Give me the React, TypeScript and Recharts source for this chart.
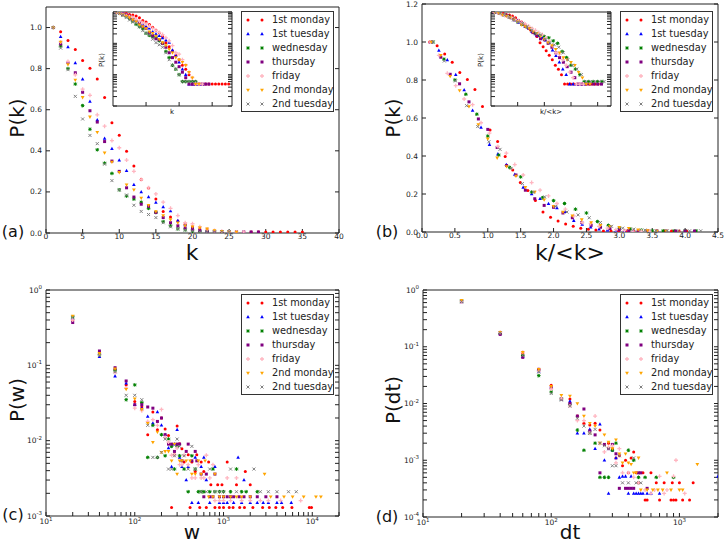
import React from 'react';
import { ScatterChart, Scatter, XAxis, YAxis } from 'recharts';

// legend entries, shared by all four panels
const seriesNames = ['1st monday', '1st tuesday', 'wednesday', 'thursday', 'friday', '2nd monday', '2nd tuesday'];
const seriesColors = ['#ff0000', '#0000ff', '#008000', '#800080', '#ffb6c1', '#ffa500', '#808080'];
const seriesShapes = ['dot', 'tri', 'star', 'square', 'plus', 'vtri', 'x'];

// (a) cumulative degree distribution P(k), k = 1, 2, 3, ...
const pk1stMonday = [1.0, 0.98, 0.937, 0.893, 0.839, 0.802, 0.75, 0.66, 0.537, 0.476, 0.398, 0.326, 0.261, 0.219, 0.166, 0.105, 0.078, 0.058, 0.042, 0.03, 0.02, 0.015, 0.01, 0.005, 0.005, 0.005, 0.005, 0.005, 0.005, 0.005, 0.005, 0.005, 0.005, 0.005, 0.005];
const pk1stTuesday = [1.0, 0.955, 0.905, 0.828, 0.748, 0.64, 0.55, 0.46, 0.41, 0.354, 0.303, 0.235, 0.2, 0.175, 0.149, 0.127, 0.107, 0.06, 0.04, 0.025, 0.015, 0.01, 0.005, 0.005, 0.005, 0.005, 0.005];
const pkWednesday = [1.0, 0.91, 0.8, 0.725, 0.62, 0.505, 0.405, 0.34, 0.29, 0.21, 0.18, 0.165, 0.15, 0.12, 0.1, 0.055, 0.035, 0.02, 0.015, 0.01, 0.006, 0.006, 0.006, 0.006, 0.006];
const pkThursday = [1.0, 0.92, 0.83, 0.78, 0.685, 0.595, 0.54, 0.445, 0.35, 0.3, 0.22, 0.175, 0.14, 0.13, 0.1, 0.075, 0.05, 0.035, 0.025, 0.018, 0.012, 0.008, 0.005, 0.005, 0.005, 0.005, 0.005, 0.005, 0.005];
const pkFriday = [1.0, 0.93, 0.835, 0.77, 0.7, 0.67, 0.575, 0.52, 0.45, 0.415, 0.355, 0.3, 0.26, 0.22, 0.19, 0.15, 0.12, 0.085, 0.05, 0.045, 0.03, 0.02, 0.012, 0.008, 0.005, 0.005, 0.005];
const pk2ndMonday = [1.0, 0.93, 0.82, 0.745, 0.66, 0.565, 0.49, 0.39, 0.345, 0.295, 0.235, 0.21, 0.17, 0.135, 0.105, 0.085, 0.065, 0.05, 0.035, 0.03, 0.025, 0.02, 0.012, 0.008, 0.005, 0.005];
const pk2ndTuesday = [1.0, 0.9, 0.795, 0.665, 0.555, 0.475, 0.435, 0.335, 0.255, 0.21, 0.185, 0.135, 0.105, 0.09, 0.075, 0.05, 0.03, 0.02, 0.015, 0.01, 0.006, 0.006, 0.006, 0.006, 0.006];
const pkSeries = [pk1stMonday, pk1stTuesday, pkWednesday, pkThursday, pkFriday, pk2ndMonday, pk2ndTuesday];

// (b) same curves against k/<k>; mean degree of each day
const meanDegree = [8.7, 7.8, 6.0, 7.0, 7.8, 7.0, 5.9];

// (c) weight distribution P(w), [w, P]
const pw1stMonday = [[20, 0.4], [40, 0.15], [60, 0.088], [80, 0.055], [100, 0.033], [120, 0.028], [140, 0.012], [160, 0.024], [180, 0.014], [200, 0.02], [220, 0.0143], [240, 0.0117], [260, 0.0013], [280, 0.0065], [300, 0.0156], [320, 0.0091], [340, 0.0078], [360, 0.0052], [400, 0.0065], [420, 0.0013], [440, 0.0052], [480, 0.0039], [500, 0.0065], [540, 0.0013], [560, 0.0052], [600, 0.0039], [640, 0.0013], [680, 0.0052], [720, 0.0026], [800, 0.0013], [860, 0.0026], [900, 0.0013], [960, 0.0026], [1000, 0.0013], [1100, 0.0052], [1160, 0.0013], [1280, 0.0013], [1400, 0.0026], [1520, 0.0013], [1720, 0.0013], [1760, 0.0039], [2000, 0.0026], [2140, 0.0013], [2760, 0.0013], [3280, 0.0013], [3880, 0.0013], [4640, 0.0013], [5900, 0.0013], [9260, 0.0013], [9800, 0.0013]];
const pw1stTuesday = [[20, 0.42], [40, 0.13], [60, 0.072], [80, 0.058], [100, 0.03], [120, 0.027], [140, 0.021], [160, 0.017], [180, 0.024], [200, 0.016], [220, 0.012], [240, 0.008], [260, 0.0045], [280, 0.009], [300, 0.014], [320, 0.006], [340, 0.0045], [380, 0.003], [400, 0.0045], [440, 0.0015], [480, 0.006], [520, 0.0015], [560, 0.0045], [600, 0.006], [640, 0.003], [700, 0.0015], [800, 0.0045], [900, 0.0015], [1000, 0.0015], [1100, 0.0015], [1300, 0.0015], [1460, 0.006], [1600, 0.0015], [1700, 0.003], [2000, 0.0015], [2400, 0.0015], [2800, 0.0015], [3200, 0.0015], [4000, 0.0015], [4500, 0.0015], [5800, 0.0015]];
const pwWednesday = [[20, 0.44], [40, 0.14], [60, 0.085], [80, 0.035], [100, 0.055], [120, 0.032], [140, 0.006], [160, 0.016], [180, 0.006], [200, 0.012], [220, 0.0063], [240, 0.0105], [260, 0.0084], [280, 0.0042], [300, 0.0084], [320, 0.0063], [360, 0.0042], [400, 0.0021], [440, 0.0063], [480, 0.0042], [520, 0.0021], [560, 0.0021], [600, 0.0021], [700, 0.0021], [760, 0.0042], [800, 0.0021], [900, 0.0021], [1000, 0.0021], [1200, 0.0021], [1400, 0.0042], [1600, 0.0021], [1800, 0.0021], [2400, 0.0021]];
const pwThursday = [[20, 0.37], [40, 0.155], [60, 0.093], [80, 0.062], [100, 0.03], [120, 0.03], [140, 0.028], [160, 0.027], [180, 0.018], [200, 0.02], [220, 0.012], [240, 0.009], [260, 0.009], [280, 0.0072], [300, 0.009], [320, 0.009], [340, 0.0054], [380, 0.0072], [400, 0.009], [440, 0.0054], [480, 0.0072], [500, 0.0054], [560, 0.0036], [600, 0.0018], [640, 0.0036], [700, 0.0018], [760, 0.0018], [800, 0.0036], [900, 0.0018], [1000, 0.0018], [1100, 0.0018], [1200, 0.0018], [1300, 0.0018], [1500, 0.0018], [1700, 0.0018], [2000, 0.0018], [2400, 0.0018], [3000, 0.0018], [4000, 0.0018]];
const pwFriday = [[20, 0.4], [40, 0.14], [60, 0.08], [80, 0.05], [100, 0.027], [120, 0.025], [140, 0.018], [160, 0.019], [180, 0.016], [200, 0.026], [220, 0.011], [240, 0.0096], [260, 0.0064], [280, 0.0064], [300, 0.008], [320, 0.0048], [340, 0.0048], [360, 0.0064], [400, 0.0048], [440, 0.0032], [480, 0.0032], [520, 0.0048], [560, 0.0032], [600, 0.0032], [640, 0.0064], [700, 0.0032], [760, 0.0048], [800, 0.0016], [900, 0.0016], [1000, 0.0016], [1100, 0.0032], [1200, 0.0016], [1400, 0.0032], [1600, 0.0016], [2000, 0.0016], [2600, 0.0016], [3200, 0.0016], [4400, 0.0016], [7400, 0.0016]];
const pw2ndMonday = [[20, 0.45], [40, 0.145], [60, 0.09], [80, 0.048], [100, 0.036], [120, 0.026], [140, 0.017], [160, 0.0095], [180, 0.013], [200, 0.007], [220, 0.0072], [240, 0.0072], [260, 0.0054], [280, 0.009], [300, 0.0036], [320, 0.0054], [340, 0.0054], [380, 0.0054], [420, 0.0054], [440, 0.0036], [480, 0.0036], [520, 0.0054], [560, 0.0036], [620, 0.0054], [680, 0.0018], [760, 0.0018], [800, 0.0036], [900, 0.0018], [1000, 0.0018], [1200, 0.0018], [1400, 0.0018], [1600, 0.0018], [2000, 0.0018], [2900, 0.0036], [3400, 0.0018], [4800, 0.0018], [6000, 0.0018], [8000, 0.0018], [11000, 0.0018], [12500, 0.0018]];
const pw2ndTuesday = [[20, 0.43], [40, 0.135], [60, 0.082], [80, 0.04], [100, 0.04], [120, 0.035], [140, 0.016], [160, 0.006], [180, 0.006], [200, 0.007], [220, 0.0105], [240, 0.0042], [260, 0.0042], [280, 0.0063], [300, 0.0105], [320, 0.0084], [360, 0.0063], [400, 0.0042], [440, 0.0084], [480, 0.0042], [560, 0.0021], [640, 0.0021], [700, 0.0042], [800, 0.0021], [900, 0.0021], [1000, 0.0021], [1200, 0.0042], [1400, 0.0021], [2200, 0.0042], [2600, 0.0021], [3200, 0.0021], [4000, 0.0021], [5400, 0.0021], [6600, 0.0021]];
const pwSeries = [pw1stMonday, pw1stTuesday, pwWednesday, pwThursday, pwFriday, pw2ndMonday, pw2ndTuesday];

// (d) inter-contact time distribution P(dt), [dt, P]
const pdt1stMonday = [[20, 0.63], [40, 0.175], [60, 0.075], [80, 0.04], [100, 0.021], [120, 0.012], [140, 0.012], [160, 0.006], [180, 0.0045], [200, 0.0042], [220, 0.0045], [240, 0.0034], [260, 0.0019], [280, 0.002], [300, 0.0016], [320, 0.0011], [340, 0.0012], [360, 0.0008], [380, 0.001], [400, 0.0006], [420, 0.0011], [440, 0.0014], [460, 0.0006], [480, 0.0004], [520, 0.0006], [540, 0.0002], [560, 0.0002], [600, 0.0006], [660, 0.0004], [700, 0.0002], [760, 0.0004], [860, 0.0002], [880, 0.0004], [900, 0.0002], [940, 0.0002], [1000, 0.0004], [1060, 0.0002], [1200, 0.0002], [1280, 0.0004]];
const pdt1stTuesday = [[20, 0.62], [40, 0.17], [60, 0.067], [80, 0.037], [100, 0.019], [120, 0.012], [140, 0.011], [160, 0.003], [180, 0.003], [200, 0.0035], [220, 0.0016], [240, 0.0043], [260, 0.001], [280, 0.00026], [300, 0.0015], [320, 0.0011], [340, 0.0005], [360, 0.00052], [380, 0.00052], [400, 0.00026], [420, 0.00052], [440, 0.00026], [460, 0.00026], [480, 0.00026], [500, 0.00026], [520, 0.00026], [560, 0.00026], [600, 0.00026], [700, 0.00026], [2000, 0.00052]];
const pdtWednesday = [[20, 0.64], [40, 0.17], [60, 0.07], [80, 0.031], [100, 0.016], [120, 0.012], [140, 0.0095], [160, 0.0034], [180, 0.0015], [200, 0.003], [220, 0.002], [240, 0.0005], [260, 0.0005], [280, 0.0005], [300, 0.0015], [320, 0.002], [400, 0.0015], [440, 0.001], [480, 0.0005], [540, 0.0005], [660, 0.0005], [900, 0.0005]];
const pdtThursday = [[20, 0.62], [40, 0.165], [60, 0.065], [80, 0.04], [100, 0.019], [120, 0.012], [140, 0.01], [160, 0.006], [180, 0.008], [200, 0.0033], [220, 0.0028], [240, 0.0006], [260, 0.0019], [280, 0.0016], [300, 0.0019], [320, 0.0013], [340, 0.00032], [380, 0.00032], [400, 0.00032], [420, 0.00032], [440, 0.00032], [480, 0.0006], [500, 0.0006], [560, 0.00032]];
const pdtFriday = [[20, 0.63], [40, 0.18], [60, 0.08], [80, 0.037], [100, 0.018], [120, 0.012], [140, 0.009], [160, 0.005], [180, 0.005], [200, 0.003], [220, 0.006], [240, 0.002], [260, 0.0014], [280, 0.0017], [300, 0.0018], [320, 0.0009], [340, 0.0016], [360, 0.0006], [400, 0.0006], [440, 0.0005], [480, 0.0004], [540, 0.0003], [600, 0.00026], [640, 0.0003], [700, 0.00052], [760, 0.00026], [800, 0.0003], [900, 0.00052], [940, 0.001], [1100, 0.00026]];
const pdt2ndMonday = [[20, 0.66], [40, 0.18], [60, 0.08], [80, 0.04], [100, 0.02], [120, 0.014], [140, 0.0135], [160, 0.01], [180, 0.006], [200, 0.0045], [220, 0.004], [240, 0.002], [260, 0.0028], [280, 0.0021], [300, 0.0016], [320, 0.0023], [340, 0.0013], [360, 0.0009], [380, 0.0013], [400, 0.0009], [420, 0.00085], [440, 0.0006], [460, 0.0006], [480, 0.0011], [500, 0.0003], [560, 0.0003], [620, 0.0003], [680, 0.0003], [740, 0.0003], [800, 0.0006], [860, 0.0003], [1000, 0.0003], [1060, 0.0003], [1380, 0.00085]];
const pdt2ndTuesday = [[20, 0.62], [40, 0.175], [60, 0.07], [80, 0.036], [100, 0.015], [120, 0.0115], [140, 0.009], [160, 0.0055], [180, 0.004], [200, 0.003], [220, 0.0035], [240, 0.002], [260, 0.0018], [280, 0.0016], [300, 0.0008], [320, 0.0008], [340, 0.0012], [360, 0.0004], [400, 0.0004], [440, 0.0011], [460, 0.0004], [500, 0.0004], [2000, 0.0004]];
const pdtSeries = [pdt1stMonday, pdt1stTuesday, pdtWednesday, pdtThursday, pdtFriday, pdt2ndMonday, pdt2ndTuesday];

// tick values
const kTicks = [0, 5, 10, 15, 20, 25, 30, 35, 40];
const pkTicksA = [0, 0.2, 0.4, 0.6, 0.8, 1.0];
const kNormTicks = [0, 0.5, 1, 1.5, 2, 2.5, 3, 3.5, 4, 4.5];
const pkTicksB = [0, 0.2, 0.4, 0.6, 0.8, 1.0, 1.2];

const FONT = '"DejaVu Sans", sans-serif';
const INK = '#222';

// decades plus the 2..9 minor positions between them
const logTicks = (lo: number, hi: number, top?: number) => {
  const out: number[] = [];
  for (let e = lo; e <= hi; e++) {
    for (let m = 1; m <= 9; m++) {
      if (e === hi && m > 1) break;
      out.push(m * Math.pow(10, e));
    }
  }
  if (top) for (let m = 2; m <= top; m++) out.push(m * Math.pow(10, hi));
  return out;
};
const isDecade = (v: number) => Math.abs(Math.log10(v) - Math.round(Math.log10(v))) < 1e-6;

function Marker({ kind, cx, cy, color }: any) {
  if (cx == null || cy == null) return null;
  switch (kind) {
    case 'dot':
      return <circle cx={cx} cy={cy} r={1.5} fill={color} />;
    case 'tri':
      return <path d={`M${cx},${cy - 2}L${cx + 1.8},${cy + 1.3}L${cx - 1.8},${cy + 1.3}Z`} fill={color} />;
    case 'vtri':
      return <path d={`M${cx},${cy + 2}L${cx + 1.9},${cy - 1.3}L${cx - 1.9},${cy - 1.3}Z`} fill={color} />;
    case 'star':
      return (
        <path
          d={`M${cx - 1.8},${cy}L${cx + 1.8},${cy}M${cx},${cy - 1.8}L${cx},${cy + 1.8}M${cx - 1.3},${cy - 1.3}L${cx + 1.3},${cy + 1.3}M${cx - 1.3},${cy + 1.3}L${cx + 1.3},${cy - 1.3}`}
          stroke={color}
          strokeWidth={1}
        />
      );
    case 'square':
      return <rect x={cx - 1.5} y={cy - 1.5} width={3} height={3} fill={color} />;
    case 'plus':
      return <path d={`M${cx - 2},${cy}L${cx + 2},${cy}M${cx},${cy - 2}L${cx},${cy + 2}`} stroke={color} strokeWidth={1.3} />;
    case 'x':
      return <path d={`M${cx - 1.5},${cy - 1.5}L${cx + 1.5},${cy + 1.5}M${cx - 1.5},${cy + 1.5}L${cx + 1.5},${cy - 1.5}`} stroke={color} strokeWidth={1} />;
    default:
      return null;
  }
}

const EmptyTick = () => <g />;

function LinTickBottom({ x, y, payload, fmt }: any) {
  return (
    <text x={x} y={y + 6} textAnchor="middle" fontSize={7.5} fill={INK} fontFamily={FONT}>
      {fmt(payload.value)}
    </text>
  );
}

function LinTickLeft({ x, y, payload, fmt }: any) {
  return (
    <text x={x} y={y + 2.5} textAnchor="end" fontSize={7.5} fill={INK} fontFamily={FONT}>
      {fmt(payload.value)}
    </text>
  );
}

function LogTickBottom({ x, y, payload }: any) {
  if (!isDecade(payload.value)) return <g />;
  const e = Math.round(Math.log10(payload.value));
  return (
    <text x={x} y={y + 8} textAnchor="middle" fontSize={7.5} fill={INK} fontFamily={FONT}>
      10<tspan dy={-3.5} fontSize={5.5}>{e}</tspan>
    </text>
  );
}

function LogTickLeft({ x, y, payload }: any) {
  if (!isDecade(payload.value)) return <g />;
  const e = Math.round(Math.log10(payload.value));
  return (
    <text x={x} y={y + 2.5} textAnchor="end" fontSize={7.5} fill={INK} fontFamily={FONT}>
      10<tspan dy={-3.5} fontSize={5.5}>{e}</tspan>
    </text>
  );
}

// plot = [left, top, width, height] of the axes box on the page
function Panel({ plot, series, xDomain, yDomain, xTicks, yTicks, xLog, yLog, xFmt, yFmt, bare, bg }: any) {
  const [px, py, pw, ph] = plot;
  const L = 40, B = 24, T = 4, R = 4;
  const MT = bare ? 0 : 10;
  const MR = bare ? 0 : 14;
  const axisStyle = { stroke: INK };
  const xScale = xLog ? 'log' : 'linear';
  const yScale = yLog ? 'log' : 'linear';
  return (
    <div style={{ position: 'absolute', left: px - L, top: py - T - MT }}>
      {bg && <div style={{ position: 'absolute', left: L, top: T + MT, width: pw, height: ph, background: '#fff' }} />}
      <ScatterChart width={pw + L + R + MR} height={ph + T + B + MT} margin={{ top: MT, right: MR, bottom: 0, left: 0 }}>
        <XAxis
          xAxisId="main"
          type="number"
          dataKey="x"
          scale={xScale}
          domain={xDomain}
          ticks={xTicks}
          allowDataOverflow
          height={B}
          axisLine={axisStyle}
          tickLine={axisStyle}
          tickSize={-4}
          tickMargin={4}
          tick={bare ? EmptyTick : xLog ? <LogTickBottom /> : <LinTickBottom fmt={xFmt} />}
          interval={0}
        />
        <XAxis
          xAxisId="top"
          orientation="top"
          type="number"
          scale={xScale}
          domain={xDomain}
          ticks={xTicks}
          allowDataOverflow
          height={T}
          axisLine={axisStyle}
          tickLine={axisStyle}
          tickSize={-4}
          tick={EmptyTick}
          interval={0}
        />
        <YAxis
          yAxisId="main"
          type="number"
          dataKey="y"
          scale={yScale}
          domain={yDomain}
          ticks={yTicks}
          allowDataOverflow
          width={L}
          axisLine={axisStyle}
          tickLine={axisStyle}
          tickSize={-4}
          tickMargin={8}
          tick={bare ? EmptyTick : yLog ? <LogTickLeft /> : <LinTickLeft fmt={yFmt} />}
          interval={0}
        />
        <YAxis
          yAxisId="right"
          orientation="right"
          type="number"
          scale={yScale}
          domain={yDomain}
          ticks={yTicks}
          allowDataOverflow
          width={R}
          axisLine={axisStyle}
          tickLine={axisStyle}
          tickSize={-4}
          tick={EmptyTick}
          interval={0}
        />
        {series.map((s: any) => (
          <Scatter
            key={s.name}
            name={s.name}
            data={s.points}
            xAxisId="main"
            yAxisId="main"
            isAnimationActive={false}
            shape={(p: any) => <Marker kind={s.shape} cx={p.cx} cy={p.cy} color={s.color} />}
          />
        ))}
      </ScatterChart>
    </div>
  );
}

function LegendBox({ left, top }: any) {
  return (
    <div style={{ position: 'absolute', left, top, width: 93, height: 101, border: '1px solid #333', background: '#fff', boxSizing: 'border-box' }}>
      {seriesNames.map((n, i) => (
        <div key={n} style={{ position: 'absolute', left: 0, top: 1 + i * 14, width: 91, height: 14 }}>
          <svg width={28} height={14} style={{ position: 'absolute', left: 0, top: 0 }}>
            <Marker kind={seriesShapes[i]} cx={6} cy={7} color={seriesColors[i]} />
            <Marker kind={seriesShapes[i]} cx={20} cy={7} color={seriesColors[i]} />
          </svg>
          <span style={{ position: 'absolute', left: 30, top: 0, lineHeight: '14px', fontSize: 9.8, color: INK, whiteSpace: 'nowrap' }}>{n}</span>
        </div>
      ))}
    </div>
  );
}

function Label({ text, x, y, size, rotate }: any) {
  return (
    <div
      style={{
        position: 'absolute',
        left: x,
        top: y,
        fontSize: size,
        lineHeight: 1,
        color: '#111',
        whiteSpace: 'nowrap',
        transform: `translate(-50%, -50%)${rotate ? ' rotate(-90deg)' : ''}`,
      }}
    >
      {text}
    </div>
  );
}

const mk = (points: any[], i: number) => ({
  name: seriesNames[i],
  color: seriesColors[i],
  shape: seriesShapes[i],
  points,
});

export default function App() {
  const degreeSeries = pkSeries.map((arr, i) => mk(arr.map((p, j) => ({ x: j + 1, y: p })), i));
  const normSeries = pkSeries.map((arr, i) => mk(arr.map((p, j) => ({ x: (j + 1) / meanDegree[i], y: p })), i));
  const weightSeries = pwSeries.map((arr, i) => mk(arr.map(([x, y]) => ({ x, y })), i));
  const dtSeries = pdtSeries.map((arr, i) => mk(arr.map(([x, y]) => ({ x, y })), i));

  const f1 = (v: number) => v.toFixed(1);
  const f0 = (v: number) => String(v);
  const insetY = logTicks(-3, 0);

  return (
    <div style={{ position: 'absolute', left: 0, top: 0, width: 727, height: 547, background: '#fff', fontFamily: FONT, overflow: 'hidden' }}>
      {/* (a) */}
      <Panel plot={[46, 7, 293, 226]} series={degreeSeries} xDomain={[0, 40]} yDomain={[0, 1.1]}
        xTicks={kTicks} yTicks={pkTicksA} xFmt={f0} yFmt={f1} />
      <Panel plot={[113, 12, 119, 94]} series={degreeSeries} xDomain={[0, 36]} yDomain={[0.001, 1]}
        xTicks={[10, 20, 30]} yTicks={insetY} yLog bare bg />
      <LegendBox left={241} top={11} />
      <Label text="(a)" x={13} y={232} size={16} />
      <Label text="P(k)" x={17} y={118} size={20} rotate />
      <Label text="k" x={192} y={253} size={22} />
      <Label text="P(k)" x={102} y={60} size={7} rotate />
      <Label text="k" x={172} y={112} size={7} />

      {/* (b) */}
      <Panel plot={[422, 4, 296, 228]} series={normSeries} xDomain={[0, 4.5]} yDomain={[0, 1.2]}
        xTicks={kNormTicks} yTicks={pkTicksB} xFmt={f1} yFmt={f1} />
      <Panel plot={[491, 12, 120, 94]} series={normSeries} xDomain={[0, 4.5]} yDomain={[0.001, 1]}
        xTicks={[1, 2, 3, 4]} yTicks={insetY} yLog bare bg />
      <LegendBox left={620} top={11} />
      <Label text="(b)" x={387} y={232} size={16} />
      <Label text="P(k)" x={393} y={118} size={20} rotate />
      <Label text="k/<k>" x={570} y={253} size={22} />
      <Label text="P(k)" x={481} y={60} size={7} rotate />
      <Label text="k/<k>" x={551} y={112} size={7} />

      {/* (c) */}
      <Panel plot={[46, 290, 293, 226]} series={weightSeries} xDomain={[10, 20000]} yDomain={[0.001, 1]}
        xTicks={logTicks(1, 4, 2)} yTicks={logTicks(-3, 0)} xLog yLog />
      <LegendBox left={241} top={294} />
      <Label text="(c)" x={13} y={515} size={16} />
      <Label text="P(w)" x={17} y={400} size={20} rotate />
      <Label text="w" x={192} y={532} size={20} />

      {/* (d) */}
      <Panel plot={[423, 290, 295, 227]} series={dtSeries} xDomain={[10, 2000]} yDomain={[0.0001, 1]}
        xTicks={logTicks(1, 3, 2)} yTicks={logTicks(-4, 0)} xLog yLog />
      <LegendBox left={620} top={294} />
      <Label text="(d)" x={387} y={517} size={16} />
      <Label text="P(dt)" x={393} y={400} size={20} rotate />
      <Label text="dt" x={570} y={532} size={20} />
    </div>
  );
}
